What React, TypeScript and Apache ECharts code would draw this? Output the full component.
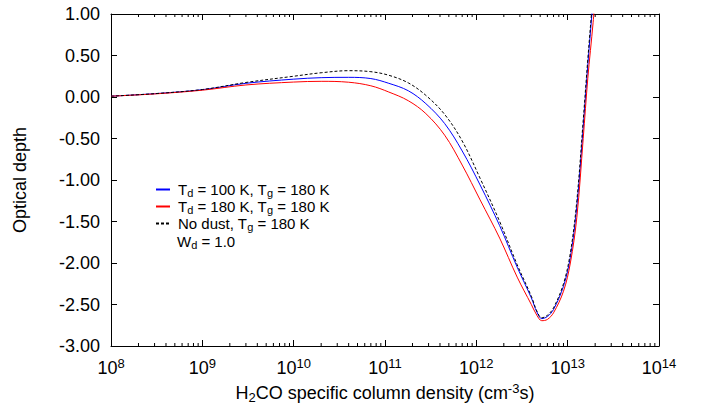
import React, { useEffect, useRef } from 'react';
import * as echarts from 'echarts';

// H2CO specific column density (cm^-3 s)
const columnDensity = [
  1e8, 3e8, 1e9, 3e9, 1e10, 2e10, 4e10, 7e10, 1.1e11, 1.8e11, 2.8e11, 4.5e11,
  7e11, 1.1e12, 1.8e12, 2.8e12, 4e12, 4.6e12, 5.2e12, 6e12, 7e12, 9e12,
  1.07e13, 1.26e13, 1.48e13, 1.66e13, 1.9e13, 2.05e13,
];
// Optical depth, Td = 100 K, Tg = 180 K
const tauTd100 = [
  0.01, 0.04, 0.088, 0.165, 0.215, 0.233, 0.237, 0.222, 0.165, 0.075, -0.08, -0.32,
  -0.65, -1.06, -1.55, -2.05, -2.42, -2.59, -2.67, -2.645, -2.56, -2.28,
  -1.93, -1.32, -0.36, 0.38, 1.18, 1.64,
];
// Optical depth, Td = 180 K, Tg = 180 K
const tauTd180 = [
  0.01, 0.037, 0.082, 0.145, 0.18, 0.189, 0.178, 0.135, 0.06, -0.045, -0.2, -0.46,
  -0.82, -1.24, -1.7, -2.17, -2.5, -2.63, -2.695, -2.68, -2.6, -2.34,
  -2.0, -1.45, -0.5, 0.22, 0.9, 1.36,
];
// Optical depth, no dust, Tg = 180 K
const tauNoDust = [
  0.01, 0.04, 0.09, 0.175, 0.25, 0.292, 0.317, 0.305, 0.262, 0.17, 0.02, -0.21,
  -0.53, -0.98, -1.5, -2.02, -2.4, -2.58, -2.66, -2.63, -2.54, -2.25,
  -1.88, -1.25, -0.28, 0.45, 1.25, 1.71,
];

const seriesNames = ['Td100', 'Td180', 'NoDust'];
const legendLabels: Record<string, string> = {
  Td100: '{n|T}{s|d}{n| = 100 K, T}{s|g}{n| = 180 K}',
  Td180: '{n|T}{s|d}{n| = 180 K, T}{s|g}{n| = 180 K}',
  NoDust: '{n|No dust, T}{s|g}{n| = 180 K}',
};
const extraLegendLine = '{n|W}{s|d}{n| = 1.0}';

const xMin = 1e8;
const xMax = 1e14;
const yMin = -3;
const yMax = 1;
const yInterval = 0.5;

// minor log ticks (2..9 within each decade)
const minorTickValues: number[] = [];
for (let e = 8; e < 14; e++) {
  for (let m = 2; m <= 9; m++) minorTickValues.push(m * Math.pow(10, e));
}

const FONT = '"Liberation Sans", Arial, Helvetica, sans-serif';

const zip = (xs: number[], ys: number[]) => xs.map((x, i) => [x, ys[i]]);

export default function App() {
  const ref = useRef<HTMLDivElement>(null);

  useEffect(() => {
    if (!ref.current) return;
    const chart = echarts.init(ref.current, undefined, { renderer: 'svg' });

    const legendRich = {
      n: { fontSize: 15, fontFamily: FONT, color: '#000', lineHeight: 17 },
      s: { fontSize: 11, fontFamily: FONT, color: '#000', lineHeight: 5, verticalAlign: 'bottom' },
    };

    const supRich = {
      b: { fontSize: 18, fontFamily: FONT, color: '#000' },
      p: { fontSize: 13, fontFamily: FONT, color: '#000', padding: [0, 0, 9, 0] },
    };

    const nameRich = {
      n: { fontSize: 18, fontFamily: FONT, color: '#000' },
      s: { fontSize: 13, fontFamily: FONT, color: '#000', padding: [9, 0, 0, 0] },
      p: { fontSize: 13, fontFamily: FONT, color: '#000', padding: [0, 0, 9, 0] },
    };

    const axisLine = { show: true, onZero: false, lineStyle: { color: '#000', width: 1 } };
    const majorTick = { show: true, inside: true, length: 6, lineStyle: { color: '#000', width: 1 } };

    const option: any = {
      animation: false,
      backgroundColor: '#fff',
      textStyle: { fontFamily: FONT, color: '#000' },
      grid: {
        left: 111,
        right: 43,
        top: 14,
        bottom: 60,
        containLabel: false,
        outerBoundsMode: 'none',
      },
      legend: {
        orient: 'vertical',
        left: 150,
        top: 177,
        itemWidth: 14,
        itemHeight: 8,
        itemGap: 1,
        selectedMode: false,
        data: seriesNames,
        itemStyle: { opacity: 0 },
        formatter: (name: string) => legendLabels[name],
        textStyle: { fontFamily: FONT, color: '#000', fontSize: 15, rich: legendRich, padding: [0, 0, 0, 3] },
      },
      graphic: [
        {
          type: 'text',
          left: 177,
          top: 234,
          silent: true,
          style: { text: extraLegendLine, rich: legendRich, fill: '#000', font: `15px ${FONT}` },
        },
      ],
      xAxis: [
        {
          type: 'log',
          logBase: 10,
          min: xMin,
          max: xMax,
          splitNumber: 6,
          position: 'bottom',
          axisLine,
          axisTick: majorTick,
          splitLine: { show: false },
          axisLabel: {
            margin: 11,
            formatter: (v: number) => `{b|10}{p|${Math.round(Math.log10(v))}}`,
            rich: supRich,
          },
          name: '{n|H}{s|2}{n|CO specific column density (cm}{p|-3}{n|s)}',
          nameLocation: 'middle',
          nameGap: 33,
          nameTextStyle: { rich: nameRich },
        },
        {
          type: 'log',
          logBase: 10,
          min: xMin,
          max: xMax,
          splitNumber: 6,
          position: 'top',
          axisLine,
          axisTick: majorTick,
          splitLine: { show: false },
          axisLabel: { show: false },
        },
      ],
      yAxis: [
        {
          type: 'value',
          min: yMin,
          max: yMax,
          interval: yInterval,
          position: 'left',
          axisLine,
          axisTick: majorTick,
          splitLine: { show: false },
          axisLabel: {
            margin: 11,
            fontSize: 18,
            fontFamily: FONT,
            color: '#000',
            formatter: (v: number) => v.toFixed(2),
          },
          name: 'Optical depth',
          nameLocation: 'middle',
          nameGap: 82,
          nameTextStyle: { fontSize: 18, fontFamily: FONT, color: '#000' },
        },
        {
          type: 'value',
          min: yMin,
          max: yMax,
          interval: yInterval,
          position: 'right',
          axisLine,
          axisTick: majorTick,
          splitLine: { show: false },
          axisLabel: { show: false },
        },
      ],
      series: [
        {
          name: 'Td100',
          type: 'line',
          data: zip(columnDensity, tauTd100),
          showSymbol: false,
          symbol: 'none',
          smooth: 0.35,
          clip: true,
          lineStyle: { color: '#0000ff', width: 1 },
          itemStyle: { color: '#0000ff' },
        },
        {
          name: 'Td180',
          type: 'line',
          data: zip(columnDensity, tauTd180),
          showSymbol: false,
          symbol: 'none',
          smooth: 0.35,
          clip: true,
          lineStyle: { color: '#ff0000', width: 1 },
          itemStyle: { color: '#ff0000' },
        },
        {
          name: 'NoDust',
          type: 'line',
          data: zip(columnDensity, tauNoDust),
          showSymbol: false,
          symbol: 'none',
          smooth: 0.35,
          clip: true,
          lineStyle: { color: '#000000', width: 1, type: [3, 2] },
          itemStyle: { color: '#000000' },
        },
        {
          name: 'minorTicks',
          type: 'custom',
          silent: true,
          clip: false,
          data: minorTickValues.map((v) => [v, yMin]),
          renderItem: (params: any, api: any) => {
            const v = api.value(0);
            const b = api.coord([v, yMin]);
            const t = api.coord([v, yMax]);
            const style = { stroke: '#000', lineWidth: 1 };
            return {
              type: 'group',
              children: [
                { type: 'line', shape: { x1: b[0], y1: b[1], x2: b[0], y2: b[1] - 3 }, style },
                { type: 'line', shape: { x1: t[0], y1: t[1], x2: t[0], y2: t[1] + 3 }, style },
              ],
            };
          },
        },
      ],
    };

    chart.setOption(option);
    return () => chart.dispose();
  }, []);

  return (
    <div
      ref={ref}
      style={{ position: 'absolute', left: 0, top: 0, width: 702, height: 406 }}
    />
  );
}
